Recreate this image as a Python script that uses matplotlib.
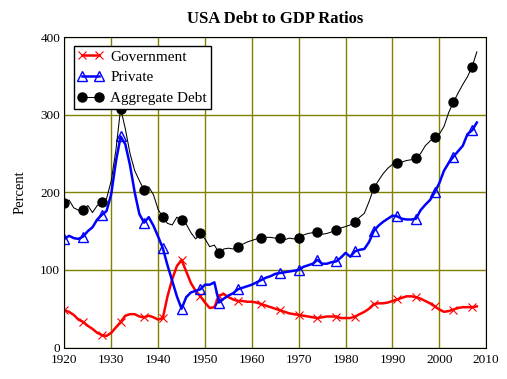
import numpy as np
import matplotlib.pyplot as plt

plt.rcParams['font.family'] = ['Liberation Serif', 'DejaVu Serif']

# annual data, 1920-2008 (percent of GDP)
years = list(range(1920, 2009))

government = [48, 46, 42, 36, 33, 28, 24, 19, 16, 15,
              19, 26, 33, 41, 43, 43, 40, 39, 41, 39,
              36, 38, 66, 88, 105, 113, 98, 83, 73, 66,
              58, 51, 52, 67, 69, 65, 62, 60, 60, 59,
              59, 58, 56, 54, 52, 50, 48, 46, 44, 43,
              42, 41, 40, 39, 38, 39, 40, 40, 40, 38,
              38, 38, 40, 43, 46, 50, 56, 57, 57, 58,
              60, 62, 64, 66, 66, 65, 63, 60, 57, 53,
              49, 46, 47, 49, 51, 52, 52, 52, 53]

private = [140, 144, 141, 140, 143, 150, 155, 165, 171, 176,
           198, 240, 272, 262, 235, 200, 172, 161, 168, 157,
           143, 128, 106, 86, 66, 50, 65, 71, 73, 75,
           81, 81, 84, 58, 63, 67, 70, 75, 77, 79,
           81, 84, 87, 90, 92, 95, 96, 97, 98, 99,
           100, 104, 106, 108, 113, 108, 108, 110, 111, 116,
           122, 117, 124, 126, 127, 136, 150, 157, 162, 166,
           170, 169, 166, 165, 165, 166, 177, 184, 190, 200,
           212, 228, 238, 246, 253, 260, 275, 280, 290]

aggregate = [186, 190, 180, 177, 177, 183, 174, 183, 187, 192,
             215, 255, 308, 282, 250, 228, 215, 203, 207, 197,
             178, 168, 160, 158, 168, 164, 159, 148, 140, 147,
             140, 130, 132, 122, 127, 128, 127, 130, 133, 136,
             138, 140, 141, 142, 142, 141, 141, 139, 141, 140,
             141, 145, 147, 148, 149, 146, 147, 149, 151, 154,
             156, 158, 162, 168, 173, 188, 205, 215, 224, 231,
             236, 238, 239, 241, 242, 244, 250, 260, 266, 271,
             275, 285, 303, 316, 328, 339, 349, 362, 381]

# a marker roughly every 4 years
marks = [int(round(i * 4.15)) for i in range(22)]

fig = plt.figure(figsize=(5.07, 3.79), dpi=100)
ax = fig.add_axes([0.127, 0.083, 0.832, 0.819])

ax.plot(years, government, color='red', lw=1.8, marker='x', ms=6, mew=0.8,
        markevery=marks, label='Government')
ax.plot(years, private, color='blue', lw=1.8, marker='^', ms=6.5, mew=1,
        mfc='none', mec='blue', markevery=marks, label='Private')
ax.plot(years, aggregate, color='black', lw=0.75, marker='o', ms=6.5,
        markevery=marks, label='Aggregate Debt')

ax.set_xlim(1920, 2010)
ax.set_ylim(0, 400)
ax.set_xticks(range(1920, 2011, 10))
ax.set_yticks(range(0, 401, 100))
ax.tick_params(length=0, labelsize=9.5)
ax.tick_params(axis='x', pad=5)
ax.tick_params(axis='y', pad=3)
ax.grid(True, color='#808000', lw=1)
ax.set_axisbelow(True)

ax.set_title('USA Debt to GDP Ratios', fontsize=12, fontweight='bold', pad=10)
ax.set_ylabel('Percent', fontsize=10.5, labelpad=10)

leg = ax.legend(loc='upper left', fontsize=11, numpoints=2, fancybox=False,
                framealpha=1, edgecolor='black', borderaxespad=0.6,
                handlelength=1.7, handletextpad=0.45, labelspacing=0.45,
                borderpad=0.25)
leg.get_frame().set_linewidth(1)

plt.savefig('out.png', dpi=100)
